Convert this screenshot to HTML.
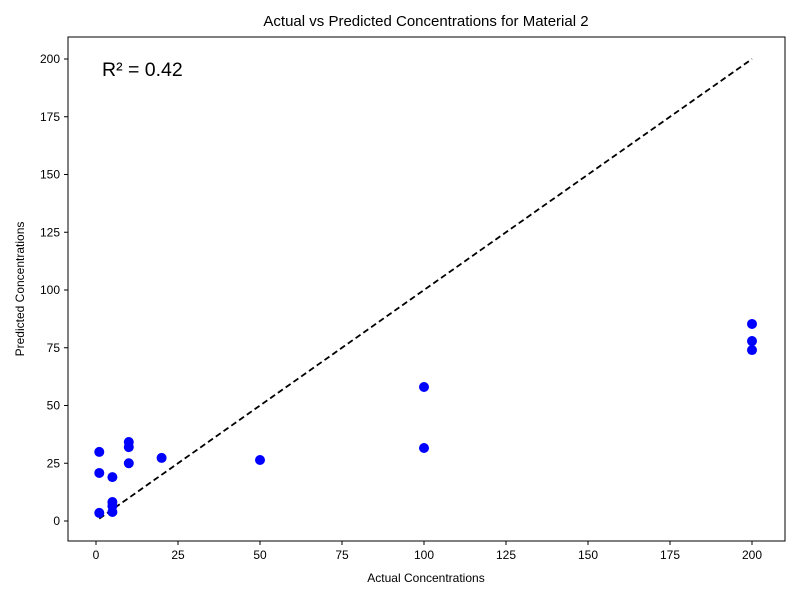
<!DOCTYPE html>
<html><head><meta charset="utf-8"><style>body{margin:0;background:#fff}svg{font-family:"Liberation Sans",Arial,sans-serif}</style></head>
<body>
<svg id="chart" width="800" height="600" xmlns="http://www.w3.org/2000/svg">
<rect width="800" height="600" fill="#fff"/>
<text x="426" y="26" text-anchor="middle" font-size="15">Actual vs Predicted Concentrations for Material 2</text>
<text x="426" y="582" text-anchor="middle" font-size="12">Actual Concentrations</text>
<text transform="translate(24,289) rotate(-90)" text-anchor="middle" font-size="12">Predicted Concentrations</text>
<text x="102" y="76" font-size="19.5">R² = 0.42</text>
<g id="ticks"></g>
<line id="diag" stroke="#000" stroke-width="1.8" stroke-dasharray="6,3.5"/>
<g id="pts"></g>
<rect x="68" y="37" width="717" height="504" fill="none" stroke="#000" stroke-width="1"/>
</svg>
<script>
const actual=[1,1,1,5,5,5,5,10,10,10,20,50,100,100,200,200,200];
const predicted=[3.5,20.8,29.9,3.9,6.5,8.2,19,25,32,34.2,27.3,26.4,58,31.6,85.3,77.9,74];
const xTicks=[0,25,50,75,100,125,150,175,200];
const yTicks=[0,25,50,75,100,125,150,175,200];
const diagLine=[1,200];
const sx=v=>96+v*3.28, sy=v=>521-v*2.31;
const NS="http://www.w3.org/2000/svg";
const t=document.getElementById('ticks');
function mk(tag,a,p){const e=document.createElementNS(NS,tag);for(const k in a)e.setAttribute(k,a[k]);p.appendChild(e);return e;}
xTicks.forEach(v=>{
 const l=mk('line',{x1:sx(v),x2:sx(v),y1:541,y2:545,stroke:'#000'},t);
 
 
 const s=mk('text',{x:sx(v),y:559,'text-anchor':'middle','font-size':12},t);s.textContent=v;
 
 
});
yTicks.forEach(v=>{
 const l=mk('line',{x1:64,x2:68,y1:sy(v),y2:sy(v),stroke:'#000'},t);
 
 
 const s=mk('text',{x:60,y:sy(v)+4,'text-anchor':'end','font-size':12},t);s.textContent=v;
 
 
});
const d=document.getElementById('diag');
d.setAttribute('x1',sx(diagLine[0]));d.setAttribute('y1',sy(diagLine[0]));
d.setAttribute('x2',sx(diagLine[1]));d.setAttribute('y2',sy(diagLine[1]));
const g=document.getElementById('pts');
actual.forEach((a,i)=>{
 const c=mk('circle',{cx:sx(a),cy:sy(predicted[i]),r:5,fill:'#0000ff'},g);
 
 
});
</script>
</body></html>
